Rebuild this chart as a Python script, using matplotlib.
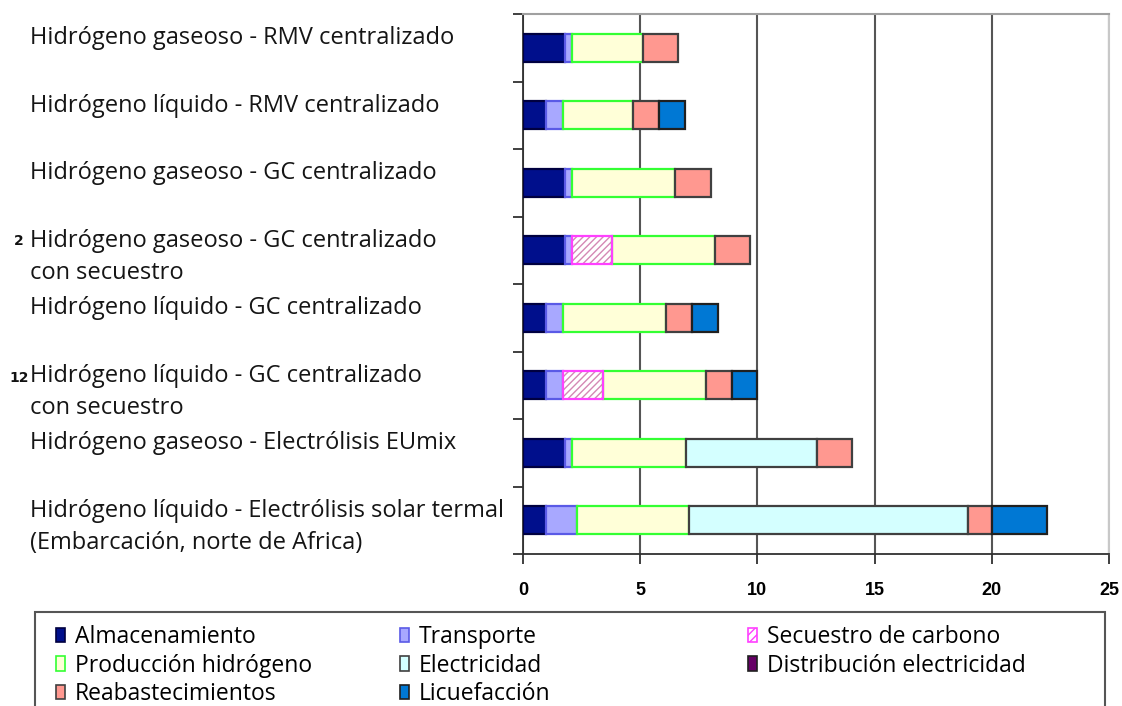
import numpy as np
import matplotlib.pyplot as plt
from matplotlib.patches import Patch, Rectangle

# Costes por ruta, de arriba abajo
rutas = [
    'Hidrógeno gaseoso - RMV centralizado',
    'Hidrógeno líquido - RMV centralizado',
    'Hidrógeno gaseoso - GC centralizado',
    'Hidrógeno gaseoso - GC centralizado\ncon secuestro',
    'Hidrógeno líquido - GC centralizado',
    'Hidrógeno líquido - GC centralizado\ncon secuestro',
    'Hidrógeno gaseoso - Electrólisis EUmix',
    'Hidrógeno líquido - Electrólisis solar termal\n(Embarcación, norte de Africa)',
]

almacenamiento = [1.8, 1.0, 1.8, 1.8, 1.0, 1.0, 1.8, 1.0]
transporte     = [0.3, 0.7, 0.3, 0.3, 0.7, 0.7, 0.3, 1.3]
secuestro      = [0.0, 0.0, 0.0, 1.7, 0.0, 1.7, 0.0, 0.0]
produccion     = [3.0, 3.0, 4.4, 4.4, 4.4, 4.4, 4.85, 4.8]
electricidad   = [0.0, 0.0, 0.0, 0.0, 0.0, 0.0, 5.6, 11.9]
distribucion   = [0.0, 0.0, 0.0, 0.0, 0.0, 0.0, 0.0, 0.0]
reabastec      = [1.5, 1.1, 1.5, 1.5, 1.1, 1.1, 1.5, 1.0]
licuefaccion   = [0.0, 1.1, 0.0, 0.0, 1.1, 1.1, 0.0, 2.35]

xticks = [0, 5, 10, 15, 20, 25]

series = [
    ('Almacenamiento', almacenamiento, '#000f8c', '#000040'),
    ('Transporte', transporte, '#a8a8ff', '#5a5ae6'),
    ('Secuestro de carbono', secuestro, 'white', '#ff40ff'),
    ('Producción hidrógeno', produccion, '#ffffd8', '#33ff33'),
    ('Electricidad', electricidad, '#d4ffff', '#404040'),
    ('Distribución electricidad', distribucion, '#660066', '#202020'),
    ('Reabastecimientos', reabastec, '#ff9890', '#404040'),
    ('Licuefacción', licuefaccion, '#0078d4', '#202020'),
]

fig = plt.figure(figsize=(11.22, 7.06), dpi=100)
ax = fig.add_axes([523/1122, 1 - 554/706, 586/1122, 540/706])

y = np.arange(len(rutas))
left = np.zeros(len(rutas))
h = 0.41
handles = {}
for name, vals, fc, ec in series:
    vals = np.array(vals)
    for i in range(len(rutas)):
        if vals[i] <= 0:
            continue
        if name == 'Secuestro de carbono':
            ax.barh(y[i], vals[i], left=left[i], height=h, color='white',
                    edgecolor='#d488b4', hatch='/////', linewidth=0, zorder=3)
            ax.barh(y[i], vals[i], left=left[i], height=h, fill=False,
                    edgecolor=ec, linewidth=1.6, zorder=4)
        else:
            ax.barh(y[i], vals[i], left=left[i], height=h, color=fc,
                    edgecolor=ec, linewidth=1.6, zorder=3)
    left += vals
    if name == 'Secuestro de carbono':
        handles[name] = Patch(facecolor='white', edgecolor=ec, hatch='////', linewidth=1.2)
    else:
        handles[name] = Patch(facecolor=fc, edgecolor=ec, linewidth=1.2)

ax.set_xlim(0, 25)
ax.set_ylim(len(rutas) - 0.5, -0.5)
ax.set_xticks(xticks)
ax.set_xticklabels([str(t) for t in xticks], fontsize=13, fontweight='bold',
                   family='Liberation Sans')
ax.tick_params(axis='x', direction='out', length=7, width=1.3, color='#303030', pad=13)
ax.set_yticks([])
ax.set_yticks(np.arange(len(rutas) + 1) - 0.5, minor=True)
ax.tick_params(axis='y', which='minor', direction='out', length=7, width=1.3, color='#303030')
ax.xaxis.grid(True, color='#555555', linewidth=1.5, zorder=0)
ax.set_axisbelow(True)
ax.spines['left'].set_color('#303030')
ax.spines['left'].set_linewidth(1.3)
ax.spines['bottom'].set_color('#303030')
ax.spines['bottom'].set_linewidth(1.3)
ax.spines['top'].set_color('#a0a0a0')
ax.spines['top'].set_linewidth(1.5)
ax.spines['right'].set_color('#c8c8c8')
ax.spines['right'].set_linewidth(1.5)

# etiquetas de categoría a la izquierda
for i, lbl in enumerate(rutas):
    ax.annotate(lbl, xy=(30/1122, i), xycoords=('figure fraction', 'data'),
                xytext=(0, 15.5), textcoords='offset points', va='top', ha='left',
                fontsize=17, family='Open Sans', color='#151515', linespacing=1.45)

fig.text(14/1122, 1 - 245/706, '2', fontsize=10, fontweight='bold', color='#111111')
fig.text(9/1122, 1 - 382/706, '12', fontsize=10, fontweight='bold', color='#111111')

# leyenda en tres columnas dentro de un marco
fig.patches.append(Rectangle((35/1122, -0.05), 1070/1122, 0.05 + 1 - 612/706,
                             transform=fig.transFigure, fill=False,
                             edgecolor='#555555', linewidth=1.5))
cols = [
    ['Almacenamiento', 'Producción hidrógeno', 'Reabastecimientos'],
    ['Transporte', 'Electricidad', 'Licuefacción'],
    ['Secuestro de carbono', 'Distribución electricidad'],
]
col_x = [40, 384, 732]
for names, x0 in zip(cols, col_x):
    fig.legend([handles[n] for n in names], names, loc='upper left',
               bbox_to_anchor=(x0/1122, 1 - 609/706), frameon=False,
               prop={'family': 'Open Sans', 'size': 16.5}, handlelength=0.4,
               handleheight=0.6, handletextpad=0.42, labelspacing=0.2,
               borderpad=0.2)

fig.savefig('out.png', dpi=100)
